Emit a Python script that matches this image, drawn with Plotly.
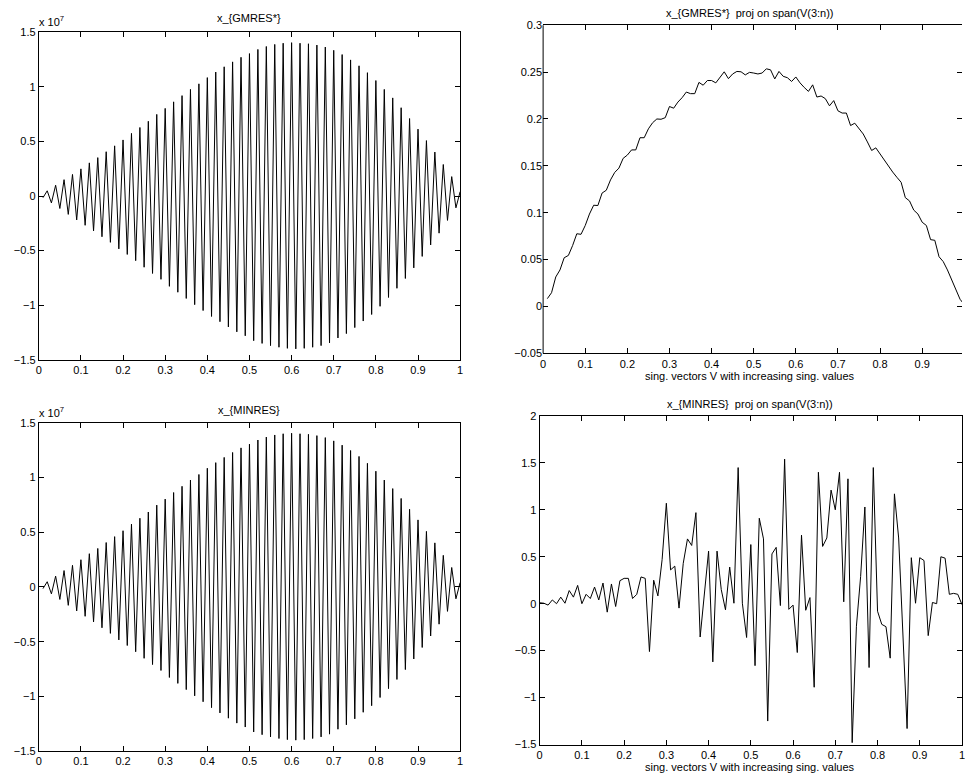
import numpy as np
import plotly.graph_objects as go

# ---------------- data ----------------
# left panels: solution vectors (units of 1e7), x = 0.01 .. 1.00
x_left = [round(0.01 * k, 2) for k in range(1, 101)]
gmres_e7 = [
    -0.015, 0.048, -0.063, 0.099, -0.114, 0.150, -0.168, 0.198, -0.219, 0.249,
    -0.268, 0.304, -0.319, 0.352, -0.373, 0.406, -0.424, 0.460, -0.484, 0.514,
    -0.535, 0.574, -0.592, 0.628, -0.652, 0.685, -0.709, 0.748, -0.763, 0.803,
    -0.827, 0.863, -0.881, 0.920, -0.938, 0.977, -0.995, 1.028, -1.049, 1.085,
    -1.103, 1.136, -1.151, 1.184, -1.199, 1.229, -1.244, 1.271, -1.280, 1.305,
    -1.325, 1.343, -1.350, 1.370, -1.370, 1.389, -1.385, 1.400, -1.395, 1.405,
    -1.400, 1.400, -1.395, 1.395, -1.385, 1.383, -1.370, 1.365, -1.345, 1.335,
    -1.300, 1.296, -1.260, 1.247, -1.205, 1.193, -1.145, 1.130, -1.085, 1.058,
    -1.010, 0.977, -0.929, 0.899, -0.845, 0.809, -0.755, 0.710, -0.658, 0.613,
    -0.553, 0.508, -0.448, 0.403, -0.340, 0.289, -0.223, 0.178, -0.108, 0.040,
]
minres_e7 = list(gmres_e7)

# top-right: projection of x_GMRES*, x = 0.01 .. 1.00
x_proj_gmres = [round(0.01 * k, 2) for k in range(1, 101)]
proj_gmres = [
    0.0084, 0.0147, 0.0315, 0.0390, 0.0520, 0.0545, 0.0650, 0.0776, 0.0770, 0.0864,
    0.0986, 0.1080, 0.1077, 0.1210, 0.1240, 0.1350, 0.1430, 0.1476, 0.1580, 0.1615,
    0.1670, 0.1670, 0.1800, 0.1800, 0.1895, 0.1960, 0.2000, 0.1997, 0.2014, 0.2133,
    0.2115, 0.2180, 0.2227, 0.2287, 0.2270, 0.2270, 0.2390, 0.2360, 0.2410, 0.2410,
    0.2385, 0.2448, 0.2503, 0.2430, 0.2480, 0.2507, 0.2503, 0.2470, 0.2497, 0.2490,
    0.2480, 0.2490, 0.2535, 0.2524, 0.2427, 0.2507, 0.2455, 0.2440, 0.2400, 0.2448,
    0.2385, 0.2336, 0.2294, 0.2364, 0.2234, 0.2245, 0.2217, 0.2140, 0.2196, 0.2087,
    0.2063, 0.2063, 0.1930, 0.1955, 0.1900, 0.1840, 0.1755, 0.1664, 0.1692, 0.1626,
    0.1556, 0.1490, 0.1434, 0.1378, 0.1325, 0.1161, 0.1126, 0.1028, 0.0986, 0.0899,
    0.0864, 0.0713, 0.0706, 0.0531, 0.0479, 0.0390, 0.0287, 0.0180, 0.0077, 0.0020,
]

# bottom-right: projection of x_MINRES, x = 0.00 .. 1.00
x_proj_minres = [round(0.01 * k, 2) for k in range(0, 101)]
proj_minres = [
    0.010, 0.005, -0.015, 0.040, 0.000, 0.070, 0.005, 0.140, 0.070, 0.195,
    0.000, 0.100, 0.055, 0.177, 0.040, 0.220, -0.090, 0.210, -0.030, 0.245,
    0.270, 0.270, 0.055, 0.100, 0.285, 0.270, -0.510, 0.250, 0.083, 0.470,
    1.070, 0.360, 0.400, -0.047, 0.430, 0.690, 0.620, 0.970, -0.355, 0.110,
    0.560, -0.620, 0.560, 0.150, -0.065, 0.390, 0.005, 1.450, 0.005, -0.360,
    0.630, -0.660, 0.910, 0.690, -1.250, 0.530, 0.600, -0.020, 1.540, -0.060,
    -0.015, -0.520, 0.730, -0.070, 0.065, -0.890, 1.400, 0.610, 0.700, 1.210,
    1.000, 1.400, 0.020, 1.330, -1.480, -0.240, 0.290, 1.030, -0.680, 1.450,
    -0.080, -0.220, -0.245, -0.580, 1.170, 0.700, -0.300, -1.330, 0.490, 0.005,
    0.490, 0.460, -0.340, 0.013, 0.000, 0.500, 0.485, 0.100, 0.110, 0.100,
    -0.010,
]

x_ticks = [0, 0.1, 0.2, 0.3, 0.4, 0.5, 0.6, 0.7, 0.8, 0.9, 1]
x_ticktext = ["0", "0.1", "0.2", "0.3", "0.4", "0.5", "0.6", "0.7", "0.8", "0.9", "1"]
left_yticks = [-1.5, -1.0, -0.5, 0, 0.5, 1.0, 1.5]
left_yticktext = ["\u22121.5", "\u22121", "\u22120.5", "0", "0.5", "1", "1.5"]
tr_yticks = [-0.05, 0, 0.05, 0.1, 0.15, 0.2, 0.25, 0.3]
tr_yticktext = ["\u22120.05", "0", "0.05", "0.1", "0.15", "0.2", "0.25", "0.3"]
br_yticks = [-1.5, -1.0, -0.5, 0, 0.5, 1.0, 1.5, 2.0]
br_yticktext = ["\u22121.5", "\u22121", "\u22120.5", "0", "0.5", "1", "1.5", "2"]

titles = ["x_{GMRES*}", "x_{GMRES*}  proj on span(V(3:n))",
          "x_{MINRES}", "x_{MINRES}  proj on span(V(3:n))"]
xlabel = "sing. vectors V with increasing sing. values"

assert len(gmres_e7) == 100 and len(proj_gmres) == 100 and len(proj_minres) == 101

# ---------------- figure ----------------
W, H = 965, 784
FONT = "Liberation Sans, Arial, Helvetica, sans-serif"
FS = 11


def px_x(p):
    return p / W


def px_y(p):
    return 1 - p / H


fig = go.Figure()
line = dict(color="black", width=1)
scale = 1e7
fig.add_trace(go.Scatter(x=x_left, y=np.array(gmres_e7) * scale, mode="lines",
                         line=line, xaxis="x", yaxis="y", showlegend=False))
fig.add_trace(go.Scatter(x=x_proj_gmres, y=proj_gmres, mode="lines",
                         line=line, xaxis="x2", yaxis="y2", showlegend=False))
fig.add_trace(go.Scatter(x=x_left, y=np.array(minres_e7) * scale, mode="lines",
                         line=line, xaxis="x3", yaxis="y3", showlegend=False))
fig.add_trace(go.Scatter(x=x_proj_minres, y=proj_minres, mode="lines",
                         line=line, xaxis="x4", yaxis="y4", showlegend=False))

common = dict(showline=True, linecolor="black", linewidth=1, mirror="ticks",
              ticks="inside", ticklen=5, tickwidth=1, tickcolor="black",
              showgrid=False, zeroline=False,
              tickfont=dict(family=FONT, size=FS, color="black"))
common_noline = dict(common, showline=False)

# panel geometry (pixels)
TL = dict(x0=36, x1=460, y0=26.7, y1=359.3)
BL = dict(x0=36, x1=460, y0=423.3, y1=756.7)
TR = dict(x0=543.5, x1=965, y0=19.5, y1=352.8)
BR = dict(x0=540, x1=965, y0=416.3, y1=750)

tr_xmax = (TR["x1"] - TR["x0"]) / 423.8

layout = dict(
    width=W, height=H, autosize=False,
    margin=dict(l=0, r=0, t=0, b=0),
    paper_bgcolor="white", plot_bgcolor="white",
    font=dict(family=FONT, size=FS, color="black"),
    xaxis=dict(domain=[px_x(TL["x0"]), px_x(TL["x1"])], range=[0, 1], anchor="y",
               tickvals=x_ticks, ticktext=x_ticktext, **common),
    yaxis=dict(domain=[px_y(TL["y1"]), px_y(TL["y0"])], range=[-1.5e7, 1.5e7], anchor="x",
               tickvals=[v * scale for v in left_yticks], ticktext=left_yticktext, **common),
    xaxis2=dict(domain=[px_x(TR["x0"]), 1.0], range=[0, tr_xmax], anchor="y2",
                tickvals=x_ticks, ticktext=x_ticktext, **common),
    # right spine of this panel lies just outside the picture: only ticks mirrored
    yaxis2=dict(domain=[px_y(TR["y1"]), px_y(TR["y0"])], range=[-0.05, 0.3], anchor="x2",
                tickvals=tr_yticks, ticktext=tr_yticktext, **common_noline),
    xaxis3=dict(domain=[px_x(BL["x0"]), px_x(BL["x1"])], range=[0, 1], anchor="y3",
                tickvals=x_ticks, ticktext=x_ticktext, **common),
    yaxis3=dict(domain=[px_y(BL["y1"]), px_y(BL["y0"])], range=[-1.5e7, 1.5e7], anchor="x3",
                tickvals=[v * scale for v in left_yticks], ticktext=left_yticktext, **common),
    xaxis4=dict(domain=[px_x(BR["x0"]), 1.0], range=[0, 1], anchor="y4",
                tickvals=x_ticks, ticktext=x_ticktext, ticklabeloverflow="allow", **common),
    yaxis4=dict(domain=[px_y(BR["y1"]), px_y(BR["y0"])], range=[-1.5, 2], anchor="x4",
                tickvals=br_yticks, ticktext=br_yticktext, **common),
)
fig.update_layout(**layout)

# left spine of the top-right panel
fig.add_shape(type="line", xref="x2 domain", yref="y2 domain", x0=0, x1=0, y0=0, y1=1,
              line=dict(color="black", width=1))


def ann(text, xpx, ypx, xanchor="center", size=FS):
    fig.add_annotation(text=text, x=px_x(xpx), y=px_y(ypx), xref="paper", yref="paper",
                       showarrow=False, xanchor=xanchor, yanchor="middle",
                       font=dict(family=FONT, size=size, color="black"))


ann(titles[0], (TL["x0"] + TL["x1"]) / 2, 12)
ann(titles[1], 752, 7)
ann(titles[2], (BL["x0"] + BL["x1"]) / 2, 410)
ann(titles[3], 752, 404)
ann(xlabel, 752, 376)
ann(xlabel, 752, 773)
ann("x 10<sup>7</sup>", 34, 15, xanchor="left")
ann("x 10<sup>7</sup>", 34, 412, xanchor="left")

fig.write_html(
    "out.html",
    config={"displayModeBar": False},
    post_script="document.body.style.margin='0';document.body.style.overflow='hidden';",
)
